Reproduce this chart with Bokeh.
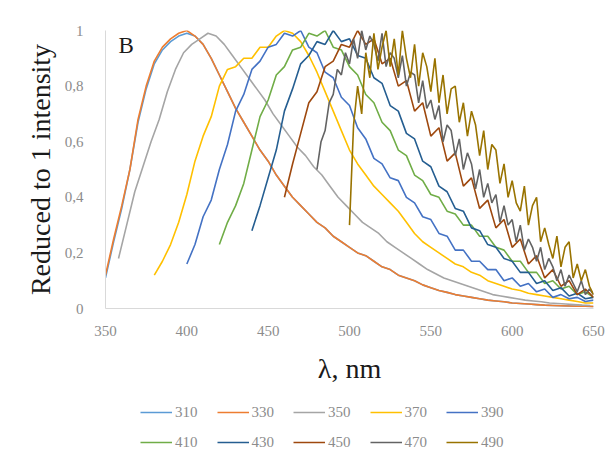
from bokeh.plotting import figure
from bokeh.models import Range1d, FixedTicker, Legend, LegendItem, Label
from bokeh.layouts import column
from bokeh.embed import file_html
from bokeh.resources import INLINE

# excitation wavelengths (series names)
series_names = ["310", "330", "350", "370", "390", "410", "430", "450", "470", "490"]
colors = ["#5B9BD5", "#ED7D31", "#A5A5A5", "#FFC000", "#4472C4",
          "#70AD47", "#255E91", "#9E480E", "#636363", "#997300"]

# each series: first wavelength (nm), sampling step (nm), normalized intensities
start_nm = [350, 350, 358, 380, 400, 420, 440, 460, 480, 500]
step_nm = [5, 5, 5, 5, 5, 5, 5, 5, 2.5, 2.5]

s310 = [0.11, 0.24, 0.36, 0.50, 0.67, 0.79, 0.88, 0.93, 0.96, 0.98, 0.99, 0.98, 0.95, 0.90, 0.84,
        0.78, 0.72, 0.67, 0.62, 0.57, 0.53, 0.48, 0.44, 0.40, 0.37, 0.34, 0.31, 0.29, 0.26, 0.24,
        0.22, 0.20, 0.19, 0.17, 0.15, 0.14, 0.12, 0.11, 0.10, 0.085, 0.075, 0.065, 0.058, 0.05, 0.045,
        0.04, 0.035, 0.03, 0.027, 0.024, 0.02, 0.018, 0.016, 0.014, 0.012, 0.011, 0.01, 0.009, 0.008,
        0.008, 0.007]
s330 = [0.12, 0.25, 0.37, 0.50, 0.68, 0.80, 0.89, 0.94, 0.97, 0.99, 1.00, 0.98, 0.95, 0.90, 0.84,
        0.78, 0.72, 0.67, 0.62, 0.57, 0.53, 0.48, 0.44, 0.40, 0.37, 0.34, 0.31, 0.29, 0.26, 0.24,
        0.22, 0.20, 0.19, 0.17, 0.15, 0.14, 0.12, 0.11, 0.10, 0.085, 0.075, 0.065, 0.058, 0.05, 0.045,
        0.04, 0.035, 0.03, 0.027, 0.024, 0.02, 0.018, 0.016, 0.014, 0.012, 0.011, 0.01, 0.009, 0.008,
        0.008, 0.007]
s350 = [0.18, 0.30, 0.42, 0.51, 0.60, 0.68, 0.78, 0.86, 0.92, 0.95, 0.97, 0.99, 0.98, 0.95, 0.91,
        0.87, 0.83, 0.79, 0.75, 0.70, 0.66, 0.62, 0.58, 0.55, 0.51, 0.48, 0.44, 0.40, 0.37, 0.34,
        0.31, 0.29, 0.27, 0.24, 0.22, 0.20, 0.18, 0.16, 0.14, 0.125, 0.11, 0.10, 0.09, 0.08, 0.07,
        0.06, 0.05, 0.045, 0.04, 0.035, 0.03, 0.027, 0.024, 0.02, 0.018, 0.016, 0.014, 0.012, 0.011]
s370 = [0.12, 0.17, 0.23, 0.31, 0.41, 0.53, 0.62, 0.69, 0.80, 0.86, 0.87, 0.90, 0.90, 0.94, 0.94,
        0.98, 1.00, 0.99, 0.96, 0.91, 0.85, 0.78, 0.71, 0.64, 0.57, 0.52, 0.48, 0.44, 0.41, 0.38,
        0.35, 0.31, 0.27, 0.24, 0.22, 0.20, 0.18, 0.16, 0.15, 0.13, 0.12, 0.10, 0.09, 0.08, 0.07,
        0.065, 0.055, 0.05, 0.045, 0.04, 0.035, 0.03, 0.025, 0.02, 0.02]
s390 = [0.16, 0.23, 0.33, 0.39, 0.50, 0.59, 0.71, 0.77, 0.86, 0.89, 0.94, 0.95, 0.99, 0.98, 1.00,
        0.94, 0.92, 0.85, 0.83, 0.76, 0.73, 0.65, 0.61, 0.54, 0.52, 0.47, 0.46, 0.40, 0.38, 0.33,
        0.32, 0.27, 0.26, 0.21, 0.21, 0.17, 0.17, 0.14, 0.14, 0.10, 0.11, 0.08, 0.09, 0.06, 0.07,
        0.04, 0.05, 0.035, 0.04, 0.025, 0.03]
s410 = [0.23, 0.31, 0.37, 0.45, 0.57, 0.69, 0.75, 0.84, 0.87, 0.93, 0.94, 0.99, 0.98, 1.00, 0.94,
        0.93, 0.87, 0.84, 0.77, 0.74, 0.67, 0.64, 0.57, 0.55, 0.48, 0.46, 0.41, 0.40, 0.35, 0.34,
        0.30, 0.30, 0.26, 0.26, 0.22, 0.21, 0.17, 0.17, 0.13, 0.13, 0.09, 0.10, 0.07, 0.08, 0.05,
        0.06, 0.04]
s430 = [0.28, 0.37, 0.47, 0.57, 0.71, 0.79, 0.88, 0.91, 0.96, 0.95, 1.00, 0.96, 0.97, 0.91, 0.90,
        0.83, 0.81, 0.73, 0.71, 0.63, 0.61, 0.53, 0.51, 0.44, 0.42, 0.36, 0.35, 0.29, 0.28, 0.23,
        0.22, 0.18, 0.17, 0.13, 0.13, 0.09, 0.10, 0.065, 0.075, 0.045, 0.055, 0.035, 0.04]
s450 = [0.40, 0.52, 0.63, 0.74, 0.78, 0.87, 0.89, 0.95, 0.94, 1.00, 0.95, 0.97, 0.88, 0.90, 0.80,
        0.82, 0.71, 0.74, 0.62, 0.65, 0.53, 0.56, 0.44, 0.47, 0.36, 0.39, 0.29, 0.32, 0.22, 0.25,
        0.16, 0.19, 0.11, 0.14, 0.08, 0.10, 0.05, 0.07, 0.04]
s470 = [0.50, 0.60, 0.64, 0.74, 0.77, 0.86, 0.84, 0.92, 0.88, 0.97,
        0.90, 1.00, 0.93, 0.98, 0.95, 0.89, 0.99, 0.87, 0.92, 0.90,
        0.83, 0.91, 0.80, 0.85, 0.84, 0.74, 0.82, 0.72, 0.75, 0.68,
        0.73, 0.60, 0.66, 0.64, 0.55, 0.61, 0.50, 0.56, 0.52, 0.43,
        0.50, 0.40, 0.45, 0.38, 0.41, 0.31, 0.37, 0.30, 0.32, 0.24,
        0.30, 0.21, 0.25, 0.22, 0.17, 0.22, 0.14, 0.18, 0.15, 0.10,
        0.14, 0.08, 0.12, 0.09, 0.06, 0.10, 0.05, 0.07, 0.05]
s490 = [0.30, 0.66, 0.80, 0.70, 0.92, 0.83, 0.99, 0.86, 0.94, 1.00,
        0.87, 0.97, 0.84, 1.00, 0.90, 0.83, 0.95, 0.80, 0.92, 0.87,
        0.78, 0.90, 0.74, 0.84, 0.70, 0.79, 0.80, 0.67, 0.74, 0.62,
        0.71, 0.66, 0.55, 0.64, 0.50, 0.59, 0.57, 0.45, 0.52, 0.40,
        0.46, 0.38, 0.35, 0.44, 0.30, 0.37, 0.40, 0.24, 0.29, 0.23,
        0.18, 0.26, 0.15, 0.22, 0.24, 0.11, 0.16, 0.10, 0.14, 0.08,
        0.05]
all_values = [s310, s330, s350, s370, s390, s410, s430, s450, s470, s490]

x_ticks = [350, 400, 450, 500, 550, 600, 650]
y_ticks = [0, 0.2, 0.4, 0.6, 0.8, 1]
y_tick_labels = {0: "0", 0.2: "0,2", 0.4: "0,4", 0.6: "0,6", 0.8: "0,8", 1: "1"}

SERIF = "Liberation Serif"
LINE_W = 1.6

p = figure(width=608, height=395, output_backend="svg", toolbar_location=None,
           x_range=Range1d(350, 650), y_range=Range1d(0, 1.0),
           min_border_left=105, min_border_right=15, min_border_top=30, min_border_bottom=87)
p.outline_line_color = None
p.background_fill_color = "white"
p.border_fill_color = "white"
p.xgrid.visible = False
p.ygrid.visible = False

p.xaxis.ticker = FixedTicker(ticks=x_ticks)
p.yaxis.ticker = FixedTicker(ticks=y_ticks)
p.yaxis.major_label_overrides = y_tick_labels
for ax in (p.xaxis[0], p.yaxis[0]):
    ax.axis_line_color = "#D9D9D9"
    ax.axis_line_width = 1
    ax.major_tick_line_color = None
    ax.minor_tick_line_color = None
    ax.major_label_text_font = SERIF
    ax.major_label_text_font_size = "15px"
    ax.major_label_text_color = "#8C8C8C"
    ax.axis_label_text_font = SERIF
    ax.axis_label_text_font_style = "normal"
    ax.axis_label_text_color = "#1a1a1a"
p.xaxis.major_label_standoff = 11
p.yaxis.major_label_standoff = 16
p.xaxis.axis_label = "λ, nm"
p.xaxis.axis_label_text_font_size = "28px"
p.xaxis.axis_label_standoff = 14
p.yaxis.axis_label = "Reduced to 1 intensity"
p.yaxis.axis_label_text_font_size = "28px"
p.yaxis.axis_label_standoff = 6

for name, col, st, stp, vals in zip(series_names, colors, start_nm, step_nm, all_values):
    xs = [st + stp * i for i in range(len(vals))]
    p.line(xs, vals, line_color=col, line_width=LINE_W)

p.add_layout(Label(x=358, y=0.90, text="B", text_font=SERIF, text_font_size="23px",
                   text_color="#1a1a1a", text_baseline="bottom"))

# legend strip (two rows of five entries) below the chart; its frame is aligned with the chart's
leg = figure(width=608, height=71, output_backend="svg", toolbar_location=None,
             x_range=Range1d(0, 1), y_range=Range1d(0, 1),
             min_border=0, min_border_left=0, min_border_right=0,
             min_border_top=0, min_border_bottom=0)
leg.axis.visible = False
leg.grid.visible = False
leg.outline_line_color = None
leg.border_fill_color = "white"
leg_renderers = []
for name, col in zip(series_names, colors):
    # proxy renderer for the legend swatch; its point lies outside the visible range
    r = leg.line(x=[-5, -4], y=[-5, -5], line_color=col, line_width=LINE_W)
    leg_renderers.append((name, r))

rows = [(leg_renderers[:5], 45), (leg_renderers[5:], 15)]
for row, vy in rows:
    lg = Legend(items=[LegendItem(label=n, renderers=[r]) for n, r in row],
                orientation="horizontal", location=(35, vy),
                glyph_width=32, glyph_height=18, label_standoff=3, spacing=19,
                padding=0, margin=0, border_line_color=None, background_fill_alpha=0,
                label_text_font=SERIF, label_text_font_size="15px",
                label_text_color="#8C8C8C", label_height=18)
    leg.add_layout(lg, "center")

open("out.html", "w").write(file_html(column(p, leg, spacing=0), INLINE))
